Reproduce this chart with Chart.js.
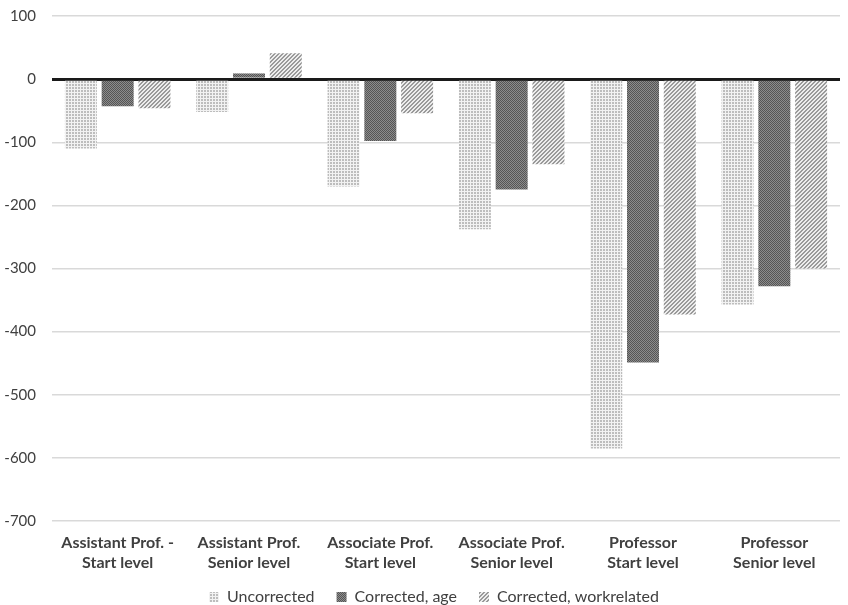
<!DOCTYPE html>
<html>
<head>
<meta charset="utf-8">
<script src="https://cdn.jsdelivr.net/npm/chart.js@4.4.1/dist/chart.umd.min.js"></script>
<style>
  html, body { margin: 0; padding: 0; background: #fff; }
  #wrap { width: 848px; height: 605px; }
</style>
</head>
<body>
<div id="wrap"><canvas id="chart" width="848" height="605"></canvas></div>
<script>
// Catégories (axe x, deux lignes par libellé)
const categories = [
  ["Assistant Prof. -", "Start level"],
  ["Assistant Prof.", "Senior level"],
  ["Associate Prof.", "Start level"],
  ["Associate Prof.", "Senior level"],
  ["Professor", "Start level"],
  ["Professor", "Senior level"],
];

// Valeurs des séries
const uncorrected = [-110, -52, -170, -238, -585, -357];
const correctedAge = [-43, 9, -98, -175, -449, -328];
const correctedWork = [-46, 41, -54, -135, -373, -300];

// Bornes de l'axe y
const yMin = -700;
const yMax = 100;
const yStep = 100;

// Crée un motif de remplissage à partir d'une petite tuile
const makePattern = (size, draw) => {
  const tile = document.createElement("canvas");
  tile.width = size;
  tile.height = size;
  const c = tile.getContext("2d");
  draw(c);
  return document.getElementById("chart").getContext("2d").createPattern(tile, "repeat");
};

// Points clairs
const dotsLight = makePattern(3, (c) => {
  c.fillStyle = "#f2f2f2";
  c.fillRect(0, 0, 3, 3);
  c.fillStyle = "#bdbdbd";
  c.fillRect(0, 0, 2, 2);
});

// Damier foncé
const checkDark = makePattern(2, (c) => {
  c.fillStyle = "#8c8c8c";
  c.fillRect(0, 0, 2, 2);
  c.fillStyle = "#555555";
  c.fillRect(0, 0, 1, 1);
  c.fillRect(1, 1, 1, 1);
});

// Hachures diagonales
const hatch = makePattern(4, (c) => {
  c.fillStyle = "#ededed";
  c.fillRect(0, 0, 4, 4);
  c.fillStyle = "#9a9a9a";
  for (let i = 0; i < 4; i++) {
    c.fillRect(i, 3 - i, 1, 1);
    c.fillRect((i + 1) % 4, 3 - i, 1, 1);
  }
});

// Décale la légende (centrée un peu à droite, comme l'original)
const legendShift = {
  id: "legendShift",
  afterLayout: (chart) => {
    const lg = chart.legend;
    lg.left += 14;
    lg.right += 14;
    lg.top -= 10;
    lg.bottom -= 10;
  },
};

const fontFamily = "Lato, 'Open Sans', sans-serif";

new Chart(document.getElementById("chart"), {
  type: "bar",
  data: {
    labels: categories,
    datasets: [
      { label: "Uncorrected", data: uncorrected, backgroundColor: dotsLight },
      { label: "Corrected, age", data: correctedAge, backgroundColor: checkDark },
      { label: "Corrected, workrelated", data: correctedWork, backgroundColor: hatch },
    ],
  },
  plugins: [legendShift],
  options: {
    responsive: false,
    animation: false,
    layout: { padding: { top: 0, right: 8, left: 0, bottom: -20 } },
    datasets: {
      bar: { categoryPercentage: 0.84, barPercentage: 0.87 },
    },
    plugins: {
      tooltip: { enabled: false },
      legend: {
        position: "bottom",
        labels: {
          boxWidth: 10,
          boxHeight: 10,
          padding: 22,
          color: "#404040",
          font: { family: fontFamily, size: 16 },
        },
      },
    },
    scales: {
      x: {
        grid: { display: false },
        border: { display: false },
        ticks: {
          color: "#404040",
          padding: 3,
          maxRotation: 0,
          font: { family: fontFamily, size: 16, weight: "bold", lineHeight: 1.3 },
        },
        afterFit: (scale) => { scale.height = 56; },
      },
      y: {
        min: yMin,
        max: yMax,
        z: 1,
        border: { display: false },
        grid: {
          drawTicks: false,
          color: (ctx) => (ctx.tick && ctx.tick.value === 0 ? "#1a1a1a" : "#d9d9d9"),
          lineWidth: (ctx) => (ctx.tick && ctx.tick.value === 0 ? 3 : 1.5),
        },
        ticks: {
          stepSize: yStep,
          color: "#404040",
          padding: 16,
          font: { family: fontFamily, size: 15 },
        },
        afterFit: (scale) => {
          scale.width = 52;
          scale.paddingTop = 16;
        },
      },
    },
  },
});
</script>
</body>
</html>
